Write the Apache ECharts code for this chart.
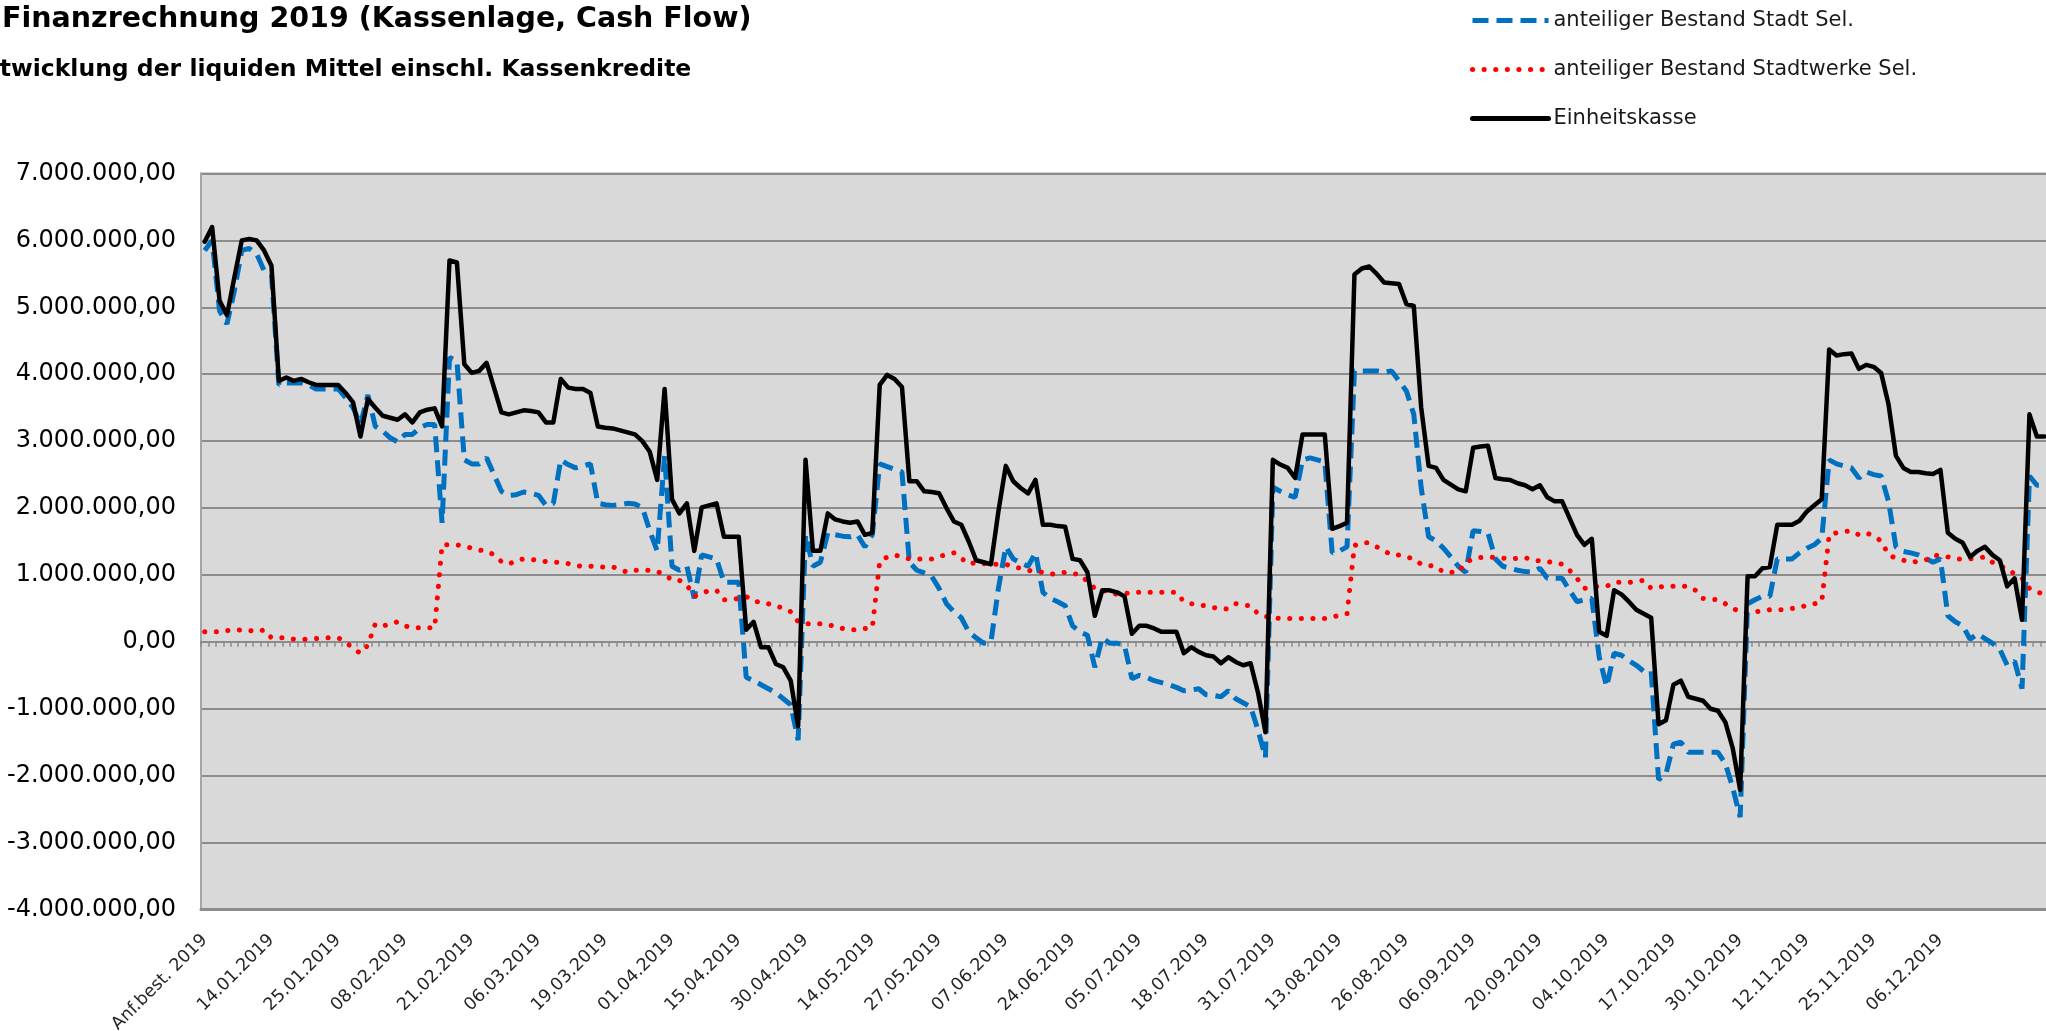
<!DOCTYPE html>
<html>
<head>
<meta charset="utf-8">
<script src="https://cdn.jsdelivr.net/npm/echarts@6/dist/echarts.min.js"></script>
<style>
html,body{margin:0;padding:0;background:#fff;}
#chart{width:2046px;height:1031px;}
</style>
</head>
<body>
<div id="chart"></div>
<script>
// Categories (booking days 2019)
const categories = [
"Anf.best. 2019","02.01.2019","03.01.2019","04.01.2019","07.01.2019","08.01.2019","09.01.2019","10.01.2019","11.01.2019",
"14.01.2019","15.01.2019","16.01.2019","17.01.2019","18.01.2019","21.01.2019","22.01.2019","23.01.2019","24.01.2019",
"25.01.2019","28.01.2019","29.01.2019","30.01.2019","31.01.2019","01.02.2019","05.02.2019","06.02.2019","07.02.2019",
"08.02.2019","11.02.2019","12.02.2019","13.02.2019","14.02.2019","15.02.2019","18.02.2019","19.02.2019","20.02.2019",
"21.02.2019","22.02.2019","25.02.2019","26.02.2019","27.02.2019","28.02.2019","01.03.2019","04.03.2019","05.03.2019",
"06.03.2019","07.03.2019","08.03.2019","11.03.2019","12.03.2019","13.03.2019","14.03.2019","15.03.2019","18.03.2019",
"19.03.2019","20.03.2019","21.03.2019","22.03.2019","25.03.2019","26.03.2019","27.03.2019","28.03.2019","29.03.2019",
"01.04.2019","02.04.2019","03.04.2019","04.04.2019","05.04.2019","08.04.2019","09.04.2019","10.04.2019","11.04.2019",
"15.04.2019","16.04.2019","17.04.2019","18.04.2019","23.04.2019","24.04.2019","25.04.2019","26.04.2019","29.04.2019",
"30.04.2019","02.05.2019","03.05.2019","06.05.2019","07.05.2019","08.05.2019","09.05.2019","10.05.2019","13.05.2019",
"14.05.2019","15.05.2019","16.05.2019","17.05.2019","20.05.2019","21.05.2019","22.05.2019","23.05.2019","24.05.2019",
"27.05.2019","28.05.2019","29.05.2019","30.05.2019","31.05.2019","03.06.2019","04.06.2019","05.06.2019","06.06.2019",
"07.06.2019","11.06.2019","12.06.2019","13.06.2019","14.06.2019","17.06.2019","18.06.2019","19.06.2019","21.06.2019",
"24.06.2019","25.06.2019","26.06.2019","27.06.2019","28.06.2019","01.07.2019","02.07.2019","03.07.2019","04.07.2019",
"05.07.2019","08.07.2019","09.07.2019","10.07.2019","11.07.2019","12.07.2019","15.07.2019","16.07.2019","17.07.2019",
"18.07.2019","19.07.2019","22.07.2019","23.07.2019","24.07.2019","25.07.2019","26.07.2019","29.07.2019","30.07.2019",
"31.07.2019","01.08.2019","02.08.2019","05.08.2019","06.08.2019","07.08.2019","08.08.2019","09.08.2019","12.08.2019",
"13.08.2019","14.08.2019","15.08.2019","16.08.2019","19.08.2019","20.08.2019","21.08.2019","22.08.2019","23.08.2019",
"26.08.2019","27.08.2019","28.08.2019","29.08.2019","30.08.2019","02.09.2019","03.09.2019","04.09.2019","05.09.2019",
"06.09.2019","09.09.2019","10.09.2019","11.09.2019","12.09.2019","16.09.2019","17.09.2019","18.09.2019","19.09.2019",
"20.09.2019","23.09.2019","24.09.2019","25.09.2019","26.09.2019","27.09.2019","30.09.2019","01.10.2019","02.10.2019",
"04.10.2019","07.10.2019","08.10.2019","09.10.2019","10.10.2019","11.10.2019","14.10.2019","15.10.2019","16.10.2019",
"17.10.2019","18.10.2019","21.10.2019","22.10.2019","23.10.2019","24.10.2019","25.10.2019","28.10.2019","29.10.2019",
"30.10.2019","31.10.2019","01.11.2019","04.11.2019","05.11.2019","06.11.2019","07.11.2019","08.11.2019","11.11.2019",
"12.11.2019","13.11.2019","14.11.2019","15.11.2019","18.11.2019","19.11.2019","20.11.2019","21.11.2019","22.11.2019",
"25.11.2019","26.11.2019","27.11.2019","28.11.2019","29.11.2019","02.12.2019","03.12.2019","04.12.2019","05.12.2019",
"06.12.2019","09.12.2019","10.12.2019","11.12.2019","12.12.2019","13.12.2019","16.12.2019","17.12.2019","18.12.2019",
"19.12.2019","20.12.2019","23.12.2019","27.12.2019","30.12.2019","31.12.2019"
];

// Values in Mio. EUR
const stadt = [
5.85,6.0,4.95,4.75,5.25,5.85,5.88,5.8,5.55,5.49,
3.84,3.87,3.87,3.87,3.84,3.78,3.78,3.78,3.78,3.65,
3.5,3.25,3.69,3.22,3.15,3.05,2.99,3.1,3.1,3.2,
3.25,3.25,1.78,4.25,4.2,2.72,2.66,2.66,2.75,2.5,
2.25,2.19,2.2,2.24,2.22,2.19,2.04,2.07,2.72,2.65,
2.6,2.63,2.66,2.07,2.05,2.04,2.05,2.07,2.06,2.01,
1.66,1.36,2.78,1.13,1.07,1.13,0.65,1.3,1.27,1.24,
0.89,0.89,0.89,-0.53,-0.58,-0.64,-0.7,-0.76,-0.85,-0.94,
-1.47,1.6,1.13,1.19,1.63,1.6,1.58,1.57,1.6,1.42,
1.6,2.66,2.62,2.58,2.54,1.19,1.07,1.03,0.98,0.8,
0.57,0.45,0.36,0.15,0.06,-0.02,0.0,0.8,1.42,1.24,
1.18,1.13,1.33,0.74,0.65,0.6,0.54,0.24,0.15,0.1,
-0.38,0.06,-0.02,-0.02,-0.05,-0.55,-0.5,-0.53,-0.58,-0.61,
-0.64,-0.68,-0.73,-0.72,-0.7,-0.79,-0.8,-0.82,-0.73,-0.85,
-0.91,-0.97,-1.32,-1.73,2.31,2.25,2.2,2.16,2.72,2.75,
2.72,2.69,1.33,1.36,1.42,4.05,4.05,4.05,4.05,4.03,
4.05,3.9,3.75,3.4,2.3,1.57,1.51,1.4,1.27,1.13,
1.04,1.66,1.65,1.63,1.24,1.13,1.1,1.07,1.05,1.04,
1.1,0.95,0.95,0.95,0.77,0.6,0.63,0.65,-0.23,-0.67,
-0.17,-0.2,-0.28,-0.35,-0.44,-0.44,-2.06,-1.97,-1.53,-1.5,
-1.65,-1.65,-1.65,-1.65,-1.65,-1.82,-2.18,-2.62,0.57,0.63,
0.68,0.68,1.24,1.24,1.24,1.33,1.4,1.45,1.55,2.72,
2.66,2.63,2.6,2.45,2.54,2.5,2.48,2.1,1.42,1.35,
1.33,1.3,1.25,1.19,1.24,0.39,0.3,0.24,0.04,0.12,
0.05,-0.02,-0.11,-0.35,-0.29,-0.7,2.48,2.34,2.34
];

const stadtwerke = [
0.15,0.15,0.15,0.17,0.17,0.18,0.17,0.15,0.18,0.06,
0.06,0.06,0.04,0.04,0.04,0.05,0.06,0.06,0.06,0.0,
-0.1,-0.17,-0.05,0.27,0.24,0.26,0.3,0.24,0.21,0.21,
0.21,0.21,1.45,1.45,1.45,1.43,1.4,1.37,1.36,1.3,
1.2,1.16,1.22,1.24,1.23,1.22,1.2,1.19,1.19,1.17,
1.14,1.13,1.13,1.12,1.12,1.12,1.08,1.04,1.07,1.07,
1.07,1.05,1.01,0.92,0.92,0.85,0.68,0.72,0.77,0.77,
0.63,0.63,0.65,0.68,0.6,0.6,0.57,0.53,0.51,0.45,
0.3,0.27,0.27,0.27,0.25,0.24,0.2,0.18,0.18,0.2,
0.21,1.2,1.27,1.3,1.27,1.24,1.24,1.24,1.24,1.28,
1.3,1.33,1.25,1.16,1.19,1.17,1.16,1.16,1.16,1.12,
1.1,1.07,1.05,1.04,1.01,1.02,1.04,1.02,1.01,0.9,
0.8,0.77,0.74,0.71,0.72,0.74,0.74,0.74,0.74,0.74,
0.74,0.74,0.6,0.57,0.55,0.54,0.51,0.5,0.49,0.57,
0.55,0.54,0.42,0.38,0.36,0.35,0.35,0.35,0.35,0.35,
0.35,0.35,0.37,0.4,0.42,1.44,1.48,1.48,1.42,1.36,
1.3,1.3,1.27,1.24,1.16,1.14,1.13,1.04,1.04,1.04,
1.19,1.24,1.26,1.27,1.26,1.25,1.24,1.25,1.26,1.22,
1.21,1.2,1.18,1.16,1.07,0.95,0.8,0.82,0.83,0.83,
0.89,0.89,0.89,0.9,0.92,0.8,0.82,0.83,0.83,0.83,
0.83,0.77,0.65,0.64,0.63,0.57,0.5,0.45,0.43,0.45,
0.46,0.48,0.48,0.48,0.5,0.51,0.55,0.57,0.6,1.6,
1.63,1.65,1.66,1.6,1.63,1.58,1.51,1.3,1.25,1.22,
1.19,1.2,1.22,1.3,1.28,1.27,1.24,1.24,1.24,1.25,
1.27,1.19,1.13,1.1,1.01,0.95,0.8,0.74,0.72
];

const einheitskasse = [
5.98,6.2,5.1,4.88,5.45,6.0,6.02,6.0,5.85,5.62,
3.9,3.95,3.9,3.93,3.88,3.84,3.84,3.84,3.84,3.72,
3.58,3.07,3.63,3.5,3.38,3.35,3.32,3.4,3.28,3.43,
3.47,3.49,3.22,5.7,5.67,4.15,4.02,4.05,4.17,3.8,
3.43,3.4,3.43,3.46,3.45,3.43,3.28,3.28,3.93,3.8,
3.78,3.78,3.72,3.22,3.2,3.19,3.16,3.13,3.1,3.0,
2.84,2.42,3.78,2.13,1.92,2.07,1.36,2.01,2.04,2.07,
1.57,1.57,1.57,0.18,0.3,-0.08,-0.08,-0.33,-0.38,-0.58,
-1.26,2.72,1.36,1.36,1.92,1.83,1.8,1.78,1.8,1.6,
1.63,3.84,3.99,3.93,3.81,2.4,2.4,2.25,2.24,2.22,
2.0,1.8,1.75,1.5,1.22,1.19,1.16,1.95,2.63,2.4,
2.3,2.22,2.42,1.75,1.75,1.73,1.72,1.24,1.22,1.04,
0.39,0.77,0.77,0.74,0.68,0.12,0.24,0.24,0.2,0.15,
0.15,0.15,-0.17,-0.08,-0.15,-0.2,-0.22,-0.32,-0.23,-0.3,
-0.35,-0.32,-0.76,-1.35,2.72,2.65,2.6,2.45,3.1,3.1,
3.1,3.1,1.69,1.73,1.78,5.49,5.58,5.61,5.5,5.37,
5.36,5.35,5.05,5.02,3.5,2.63,2.6,2.42,2.35,2.28,
2.25,2.9,2.92,2.93,2.45,2.43,2.42,2.37,2.34,2.28,
2.34,2.16,2.1,2.1,1.85,1.6,1.45,1.54,0.15,0.09,
0.77,0.71,0.6,0.48,0.42,0.36,-1.23,-1.17,-0.64,-0.58,
-0.82,-0.85,-0.88,-1.0,-1.03,-1.2,-1.59,-2.21,0.98,0.98,
1.1,1.12,1.75,1.75,1.75,1.81,1.95,2.04,2.13,4.37,
4.28,4.3,4.31,4.08,4.14,4.11,4.02,3.55,2.78,2.6,
2.54,2.54,2.52,2.51,2.57,1.63,1.54,1.48,1.27,1.36,
1.42,1.3,1.22,0.83,0.95,0.33,3.4,3.07,3.07
];

const seriesNames = ["anteiliger Bestand Stadt Sel.", "anteiliger Bestand Stadtwerke Sel.", "Einheitskasse"];
const titleText = "Finanzrechnung 2019 (Kassenlage, Cash Flow)";
const subtitleText = "Entwicklung der liquiden Mittel einschl. Kassenkredite";
const labelStep = 9;
const lastLabelIndex = 234;

function deNumber(v) {
  const n = Math.round(v * 1000000);
  const s = Math.abs(n).toString().replace(/\B(?=(\d{3})+(?!\d))/g, '.');
  return (n < 0 ? '-' : '') + s + ',00';
}

const chart = echarts.init(document.getElementById('chart'), null, {renderer: 'canvas'});
const gridColor = '#8c8c8c';
const font = 'DejaVu Sans';

chart.setOption({
  animation: false,
  backgroundColor: '#ffffff',
  title: [
    {text: titleText, left: 2, top: 5, padding: 0,
     textStyle: {fontFamily: font, fontWeight: 'bold', fontSize: 28.5, color: '#000'}},
    {text: subtitleText, left: -33, top: 58, padding: 0,
     textStyle: {fontFamily: font, fontWeight: 'bold', fontSize: 23.5, color: '#000'}}
  ],
  legend: {
    orient: 'vertical', left: 1470, top: 10, padding: 0,
    itemWidth: 76, itemHeight: 24, itemGap: 28,
    textStyle: {fontFamily: font, fontSize: 21, color: '#1a1a1a'},
    itemStyle: {opacity: 0},
    lineStyle: {width: 5},
    data: seriesNames
  },
  grid: {
    left: 201, right: -2, top: 173.5, bottom: 121.5,
    containLabel: false, outerBoundsMode: 'none',
    show: true, backgroundColor: '#d9d9d9', borderColor: '#a6a6a6', borderWidth: 2
  },
  xAxis: [
    {
      type: 'category', data: categories, boundaryGap: true, position: 'bottom',
      axisLine: {show: true, onZero: true, lineStyle: {color: gridColor, width: 2}},
      axisTick: {show: true, interval: 0, length: 5, lineStyle: {color: gridColor, width: 1.5}},
      axisLabel: {show: false}, splitLine: {show: false}
    },
    {
      type: 'category', data: categories, boundaryGap: true, position: 'bottom',
      axisLine: {show: true, onZero: false, lineStyle: {color: '#8c8c8c', width: 3}},
      axisTick: {show: false},
      axisLabel: {
        show: true, rotate: 45, margin: 28,
        interval: function (idx) { return idx % labelStep === 0 && idx <= lastLabelIndex; },
        fontFamily: font, fontSize: 17.5, color: '#262626'
      },
      splitLine: {show: false}
    }
  ],
  yAxis: {
    type: 'value', min: -4, max: 7, interval: 1,
    axisLine: {show: true, lineStyle: {color: '#a6a6a6', width: 2}},
    axisTick: {show: false},
    axisLabel: {formatter: deNumber, fontFamily: font, fontSize: 24, color: '#000', margin: 25},
    splitLine: {show: true, lineStyle: {color: gridColor, width: 2}}
  },
  series: [
    {name: seriesNames[0], type: 'line', data: stadt, symbol: 'none', xAxisIndex: 0,
     lineStyle: {color: '#0070c0', width: 5, type: [16, 8], cap: 'butt'},
     itemStyle: {color: '#0070c0'}, z: 2},
    {name: seriesNames[1], type: 'line', data: stadtwerke, symbol: 'none', xAxisIndex: 0,
     lineStyle: {color: '#ff0000', width: 5, type: [0.1, 11.5], cap: 'round'},
     itemStyle: {color: '#ff0000'}, z: 3},
    {name: seriesNames[2], type: 'line', data: einheitskasse, symbol: 'none', xAxisIndex: 0,
     lineStyle: {color: '#000000', width: 4.5, cap: 'round', join: 'round'},
     itemStyle: {color: '#000000'}, z: 4}
  ]
});
</script>
</body>
</html>
